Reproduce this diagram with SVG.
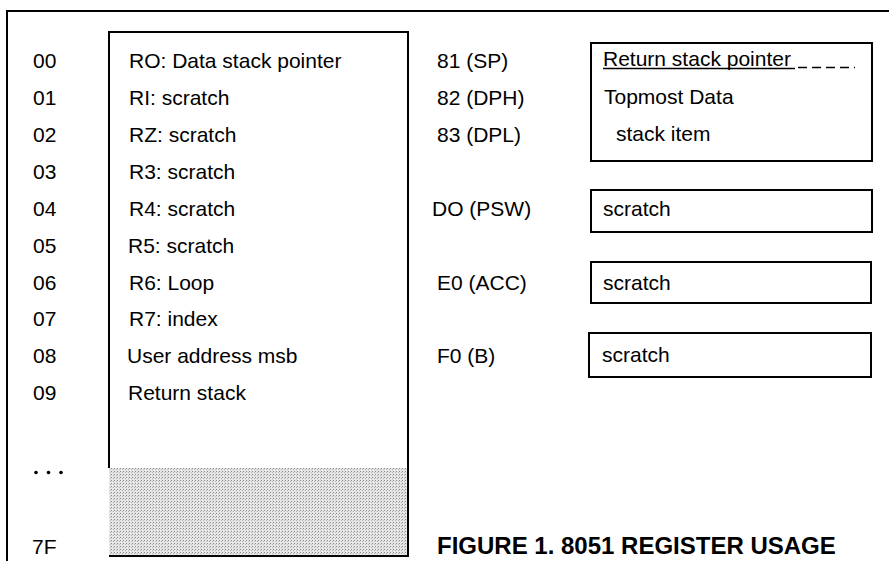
<svg xmlns="http://www.w3.org/2000/svg" width="889" height="561" viewBox="0 0 889 561">
  <style>
    text { font-family: "Liberation Sans", Arial, sans-serif; font-size: 21px; fill: #000; }
    .title { font-weight: bold; font-size: 24px; }
    .line { fill: none; stroke: #000; stroke-width: 2; }
    .box { fill: #fff; stroke: #000; stroke-width: 2; }
  </style>
  <defs>
    <pattern id="stipple" width="3" height="3" patternUnits="userSpaceOnUse">
      <rect width="3" height="3" fill="#e6e6e6"/>
      <rect x="0" y="0" width="1" height="1" fill="#8a8a8a"/>
      <rect x="2" y="1" width="1" height="1" fill="#b4b4b4"/>
    </pattern>
  </defs>
  <rect width="889" height="561" fill="#fff"/>

  <g id="frame">
    <path class="line" d="M7 561 V11 H889"/>
  </g>

  <g id="addresses">
    <text x="33" y="67.5">00</text>
    <text x="33" y="104.5">01</text>
    <text x="33" y="141.5">02</text>
    <text x="33" y="178.5">03</text>
    <text x="33" y="215.5">04</text>
    <text x="33" y="252.5">05</text>
    <text x="33" y="289.5">06</text>
    <text x="33" y="326">07</text>
    <text x="33" y="363">08</text>
    <text x="33" y="399.5">09</text>
    <circle cx="36" cy="472.5" r="1.8"/>
    <circle cx="48.5" cy="472.5" r="1.8"/>
    <circle cx="61" cy="472.5" r="1.8"/>
    <text x="32" y="554">7F</text>
  </g>

  <g id="internal-ram">
    <rect x="109" y="468" width="298" height="88" fill="url(#stipple)"/>
    <path class="line" d="M109 468 V32 H408 V556 H109"/>
    <text x="129" y="67.5">RO: Data stack pointer</text>
    <text x="129" y="104.5">RI: scratch</text>
    <text x="129" y="141.5">RZ: scratch</text>
    <text x="129" y="178.5">R3: scratch</text>
    <text x="129" y="215.5">R4: scratch</text>
    <text x="128" y="252.5">R5: scratch</text>
    <text x="129" y="289.5">R6: Loop</text>
    <text x="129" y="326">R7: index</text>
    <text x="127" y="363">User address msb</text>
    <text x="128" y="399.5">Return stack</text>
  </g>

  <g id="sfr-labels">
    <text x="437" y="67.5">81 (SP)</text>
    <text x="437" y="104.5">82 (DPH)</text>
    <text x="437" y="141.5">83 (DPL)</text>
    <text x="432" y="215.5">DO (PSW)</text>
    <text x="437" y="289.5">E0 (ACC)</text>
    <text x="437" y="363">F0 (B)</text>
  </g>

  <g id="sp-dptr">
    <rect class="box" x="591" y="43" width="281" height="118"/>
    <text x="603" y="66">Return stack pointer</text>
    <line x1="603" y1="68.5" x2="795" y2="68.5" stroke="#000" stroke-width="1.5"/>
    <line x1="798" y1="67.5" x2="855" y2="67.5" stroke="#000" stroke-width="1.5" stroke-dasharray="9 5"/>
    <text x="604" y="104">Topmost Data</text>
    <text x="616" y="141">stack item</text>
  </g>

  <g id="psw">
    <rect class="box" x="591" y="190" width="281" height="42"/>
    <text x="603" y="215.5">scratch</text>
  </g>

  <g id="acc">
    <rect class="box" x="591" y="262" width="280" height="41"/>
    <text x="603" y="289.5">scratch</text>
  </g>

  <g id="b-reg">
    <rect class="box" x="589" y="333" width="282" height="44"/>
    <text x="602" y="362">scratch</text>
  </g>

  <g id="connectors"></g>

  <text class="title" x="437" y="554">FIGURE 1. 8051 REGISTER USAGE</text>
</svg>
